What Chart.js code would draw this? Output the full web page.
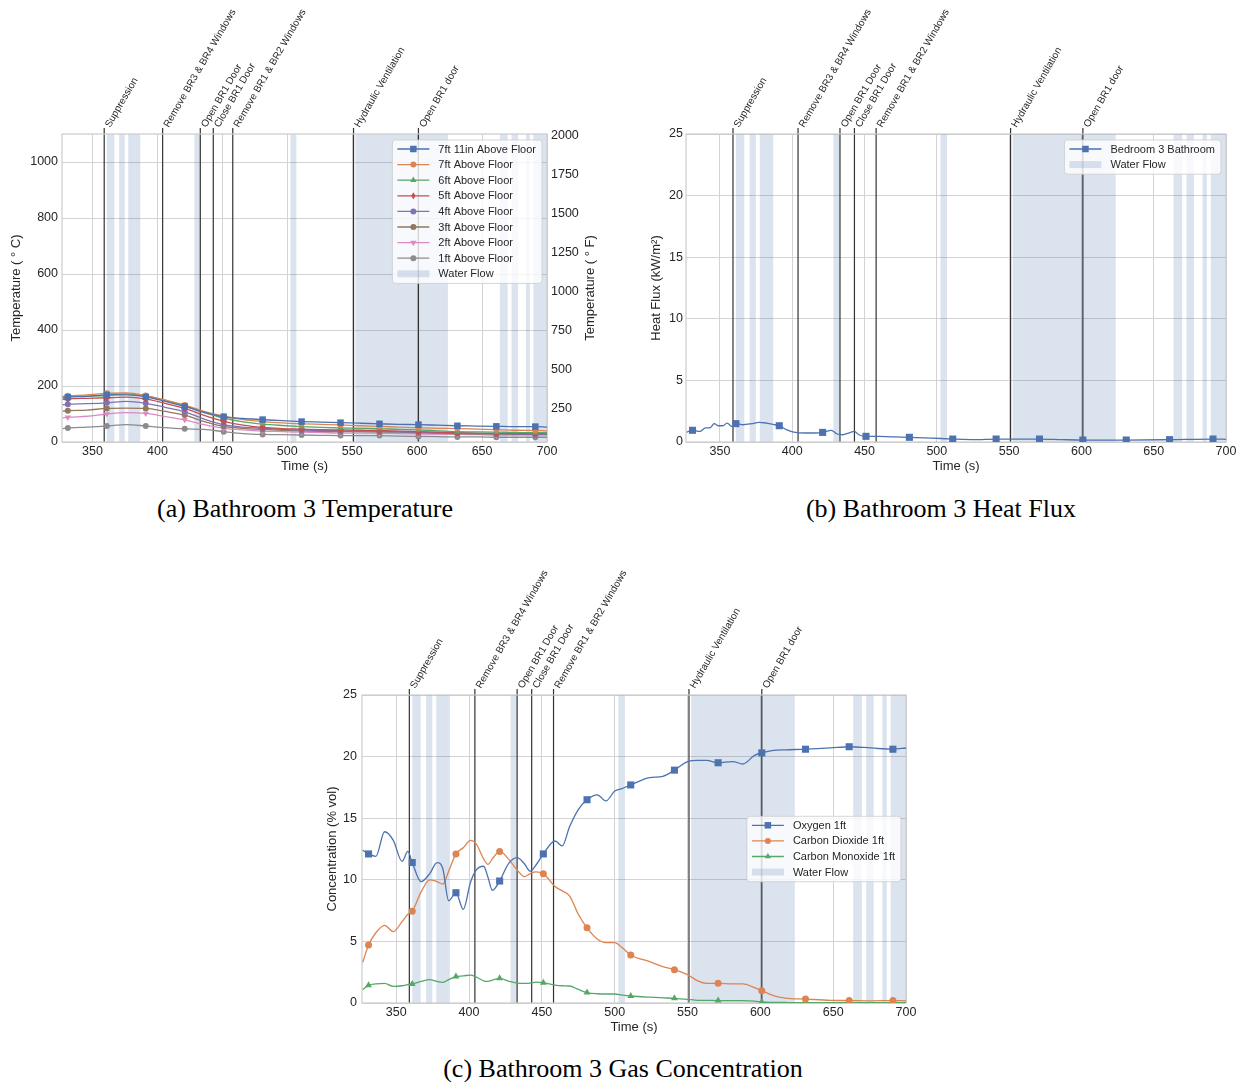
<!DOCTYPE html>
<html>
<head>
<meta charset="utf-8">
<script src="https://cdn.jsdelivr.net/npm/chart.js@4.4.1/dist/chart.umd.min.js"></script>
<style>
  html, body { margin: 0; padding: 0; background: #fff; }
  body { width: 1242px; height: 1082px; position: relative; overflow: hidden; }
  canvas { position: absolute; }
  .cap { position: absolute; width: 400px; text-align: center; font: 26px "Liberation Serif", "Times New Roman", serif; color: #000; line-height: 30px; }
</style>
</head>
<body>
<canvas id="tempChart" width="620" height="480" style="left:0;top:0"></canvas>
<canvas id="fluxChart" width="622" height="480" style="left:620px;top:0"></canvas>
<canvas id="gasChart" width="620" height="500" style="left:300px;top:540px"></canvas>
<div class="cap" style="left:105px;top:494px">(a) Bathroom 3 Temperature</div>
<div class="cap" style="left:741px;top:494px">(b) Bathroom 3 Heat Flux</div>
<div class="cap" style="left:423px;top:1054px">(c) Bathroom 3 Gas Concentration</div>
<script>
// shared time axis
const timeTicks = [350, 400, 450, 500, 550, 600, 650, 700];
const markTimes = [331, 361, 391, 421, 451, 481, 511, 541, 571, 601, 631, 661, 691];

// fireground events (s)
const eventTimes = [359, 404, 433, 443, 458, 551, 601];
const eventLabels = ['Suppression', 'Remove BR3 & BR4 Windows', 'Open BR1 Door', 'Close BR1 Door',
  'Remove BR1 & BR2 Windows', 'Hydraulic Ventilation', 'Open BR1 door'];

// hose line flowing (s)
const flowStart = [361, 370.5, 377.5, 428.5, 502.5, 552.5, 663.7, 672.7, 683.8, 689.5];
const flowEnd = [366.8, 374.8, 386.8, 432.7, 507, 623.7, 669.7, 677.8, 686.8, 700];

// bathroom 3 thermocouple array (deg C)
const tempTime = [327, 331, 346, 361, 376, 391, 406, 421, 436, 451, 466, 481, 496, 511, 526, 541, 556, 571, 586, 601, 616, 631, 646, 661, 676, 691, 700];
const temp7ft11in = [158, 160, 163, 168, 168, 161, 145, 127, 106, 90, 84, 80, 76, 73, 71, 69, 67, 65, 63, 62, 60, 58, 57, 56, 55, 55, 53];
const temp7ft = [163, 165, 168, 174, 175, 166, 150, 132, 109, 92, 80, 73, 68, 65, 63, 61, 58, 56, 53, 51, 49, 48, 46, 44, 42, 41, 40];
const temp6ft = [161, 163, 164, 166, 172, 164, 148, 129, 105, 85, 72, 64, 59, 55, 52, 50, 49, 48, 45, 43, 40, 37, 36, 35, 34, 33, 33];
const temp5ft = [152, 154, 156, 158, 160, 154, 138, 120, 95, 74, 60, 52, 48, 46, 44, 43, 42, 41, 39, 37, 35, 33, 32, 31, 30, 30, 30];
const temp4ft = [133, 135, 137, 140, 145, 138, 124, 108, 82, 62, 53, 49, 45, 43, 41, 40, 39, 38, 36, 35, 33, 31, 30, 29, 28, 27, 27];
const temp3ft = [110, 112, 114, 120, 121, 120, 109, 96, 73, 56, 49, 45, 42, 40, 38, 37, 37, 36, 35, 33, 31, 30, 29, 29, 28, 27, 27];
const temp2ft = [86, 88, 92, 100, 105, 102, 91, 79, 62, 49, 43, 39, 37, 35, 34, 32, 32, 31, 30, 29, 28, 27, 26, 25, 25, 25, 25];
const temp1ft = [48, 50, 53, 57, 62, 57, 51, 47, 45, 37, 30, 27, 26, 25, 24, 23, 23, 23, 21, 20, 19, 18, 18, 17, 17, 17, 17];
const celsiusTicks = [0, 200, 400, 600, 800, 1000];
const fahrenheitTicks = [250, 500, 750, 1000, 1250, 1500, 1750, 2000];

// heat flux gauge (kW/m2)
const fluxTime = [327, 331, 336, 340, 343, 346, 349, 352, 355, 358, 361, 366, 372, 377, 382, 388, 391, 396, 401, 409,
  415, 421, 427, 431, 435, 439, 443, 446, 451, 459, 470, 481, 496, 511, 526, 541, 560, 571, 587, 601, 631, 661, 691, 700];
const fluxBR3Bath = [0.81, 0.95, 0.86, 1.14, 1.14, 1.49, 1.32, 1.32, 1.54, 1.27, 1.49, 1.4, 1.49, 1.6, 1.54, 1.4, 1.32, 1.0, 0.81, 0.73,
  0.73, 0.78, 0.95, 0.65, 0.59, 0.73, 0.86, 0.59, 0.46, 0.46, 0.41, 0.38, 0.32, 0.24, 0.19, 0.24, 0.24, 0.24, 0.19, 0.16, 0.16, 0.19, 0.24, 0.22];
const fluxTicks = [0, 5, 10, 15, 20, 25];

// gas sampling at 1 ft (% vol)
const gasTime = [327, 331, 336, 342, 348, 354, 358, 361, 367, 373, 378, 382, 386, 391, 396, 401, 405, 410, 413, 416,
  421, 427, 433, 438, 442, 446, 451, 459, 464, 469, 475, 481, 488, 494, 500, 505, 511, 524, 533, 541,
  550, 557, 563, 571, 581, 588, 596, 601, 609, 617, 631, 648, 661, 676, 691, 700];
const oxygen1ft = [12.4, 12.1, 11.9, 13.9, 13.2, 11.5, 12.3, 11.4, 9.85, 10.5, 11.4, 10.9, 8.3, 8.95, 7.6, 9.8, 10.8, 11.1, 10.2, 9.15,
  9.9, 11.3, 11.8, 11.3, 10.7, 11.2, 12.1, 13.15, 12.75, 14.3, 15.7, 16.5, 16.9, 16.4, 17.2, 17.4, 17.7, 18.3, 18.4, 18.9,
  19.6, 19.7, 19.7, 19.5, 19.6, 19.4, 20.1, 20.3, 20.5, 20.55, 20.6, 20.7, 20.8, 20.7, 20.6, 20.7];
const carbonDioxide1ft = [3.3, 4.7, 5.7, 6.3, 5.8, 6.6, 7.2, 7.45, 9.0, 10.0, 9.85, 9.65, 10.7, 12.1, 12.6, 13.2, 12.9, 11.7, 11.25, 11.7,
  12.3, 11.7, 10.8, 10.25, 10.5, 10.65, 10.5, 9.45, 9.1, 8.7, 7.2, 6.1, 5.2, 4.9, 4.9, 4.5, 3.9, 3.35, 2.95, 2.7,
  2.3, 1.8, 1.6, 1.6, 1.55, 1.55, 1.25, 1.0, 0.6, 0.4, 0.32, 0.22, 0.2, 0.18, 0.2, 0.18];
const carbonMonoxide1ft = [1.1, 1.45, 1.55, 1.6, 1.35, 1.4, 1.5, 1.55, 1.75, 1.9, 1.75, 1.68, 1.9, 2.15, 2.2, 2.27, 2.1, 1.8, 1.75, 1.85,
  2.0, 1.78, 1.62, 1.6, 1.62, 1.7, 1.65, 1.45, 1.4, 1.38, 1.1, 0.85, 0.75, 0.73, 0.73, 0.65, 0.57, 0.47, 0.42, 0.38,
  0.3, 0.22, 0.21, 0.2, 0.2, 0.2, 0.15, 0.08, 0.05, 0.04, 0.03, 0.03, 0.03, 0.03, 0.03, 0.03];
const gasTicks = [0, 5, 10, 15, 20, 25];

const ink = '#262626';
const gridColor = '#d3d3d3';
const flowColor = 'rgba(76, 114, 176, 0.2)';
const sans = '"Liberation Sans", Arial, sans-serif';

Chart.defaults.font.family = sans;
Chart.defaults.color = ink;
Chart.defaults.animation = false;

function drawMark(ctx, style, x, y, r, rot) {
  ctx.beginPath();
  if (style === 'rect') {
    const s = r * Math.SQRT1_2;
    ctx.rect(x - s, y - s, 2 * s, 2 * s);
  } else if (style === 'rectRot') {
    ctx.moveTo(x, y - r); ctx.lineTo(x + r * 0.6, y); ctx.lineTo(x, y + r); ctx.lineTo(x - r * 0.6, y);
    ctx.closePath();
  } else if (style === 'triangle') {
    let a = (rot || 0) * Math.PI / 180;
    ctx.moveTo(x + Math.sin(a) * r, y - Math.cos(a) * r);
    a += 2 * Math.PI / 3;
    ctx.lineTo(x + Math.sin(a) * r, y - Math.cos(a) * r);
    a += 2 * Math.PI / 3;
    ctx.lineTo(x + Math.sin(a) * r, y - Math.cos(a) * r);
    ctx.closePath();
  } else {
    ctx.arc(x, y, r, 0, Math.PI * 2);
  }
  ctx.fill();
}

function series(label, times, values, color, mark, size, rot) {
  return {
    label: label,
    data: times.map((t, i) => ({ x: t, y: values[i] })),
    borderColor: color,
    backgroundColor: color,
    borderWidth: 1.3,
    pointStyle: mark,
    pointRotation: rot || 0,
    pointRadius: c => (c.raw && markTimes.includes(c.raw.x)) ? size : 0,
    pointBorderWidth: 0,
    cubicInterpolationMode: 'monotone',
    fill: false
  };
}

function timeAxis(h, titlePad) {
  return {
    type: 'linear', min: 326.5, max: 700,
    afterBuildTicks: s => { s.ticks = timeTicks.map(v => ({ value: v })); },
    afterFit: s => { s.height = h; },
    grid: { color: gridColor, lineWidth: 1, drawTicks: false },
    border: { display: false },
    ticks: { color: ink, font: { size: 12.5 }, padding: 2, autoSkip: false, maxRotation: 0, callback: v => String(v) },
    title: { display: true, text: 'Time (s)', color: ink, font: { size: 13 }, padding: { top: 0, bottom: titlePad } }
  };
}

function valueAxis(max, ticks, w, text, titlePad, tickPad) {
  return {
    position: 'left', min: 0, max: max,
    afterBuildTicks: s => { s.ticks = ticks.map(v => ({ value: v })); },
    afterFit: s => { s.width = w; },
    grid: { color: gridColor, lineWidth: 1, drawTicks: false },
    border: { display: false },
    ticks: { color: ink, font: { size: 12.5 }, padding: tickPad, callback: v => String(v) },
    title: { display: true, text: text, color: ink, font: { size: 13 }, padding: { top: titlePad, bottom: 0 } }
  };
}

// water flow spans, event lines with slanted labels, and the axes frame
const overlay = {
  id: 'overlay',
  beforeDatasetsDraw(chart) {
    const { ctx, chartArea: a } = chart;
    const x = chart.scales.x;
    ctx.save();
    ctx.beginPath();
    ctx.rect(a.left, a.top, a.width, a.height);
    ctx.clip();
    ctx.fillStyle = flowColor;
    flowStart.forEach((s, i) => {
      const x0 = x.getPixelForValue(s);
      const x1 = x.getPixelForValue(flowEnd[i]);
      ctx.fillRect(x0, a.top, x1 - x0, a.height);
    });
    ctx.restore();

    ctx.save();
    ctx.strokeStyle = '#333333';
    ctx.lineWidth = 1.2;
    ctx.fillStyle = ink;
    ctx.font = '10px ' + sans;
    ctx.textBaseline = 'alphabetic';
    eventTimes.forEach((t, i) => {
      const px = x.getPixelForValue(t);
      ctx.beginPath();
      ctx.moveTo(px, a.bottom);
      ctx.lineTo(px, a.top - 6);
      ctx.stroke();
      ctx.save();
      ctx.translate(px + 6, a.top - 6);
      ctx.rotate(-Math.PI / 3);
      ctx.fillText(eventLabels[i], 0, 0);
      ctx.restore();
    });
    ctx.strokeStyle = '#cccccc';
    ctx.lineWidth = 1.2;
    ctx.strokeRect(a.left, a.top, a.width, a.height);
    ctx.restore();
  }
};

// framed legend inside the axes, with a water flow patch at the end
const boxLegend = {
  id: 'boxLegend',
  afterDatasetsDraw(chart, args, opts) {
    const { ctx, chartArea: a } = chart;
    const rows = chart.data.datasets.map(d => ({ label: d.label, ds: d }));
    rows.push({ label: 'Water Flow', patch: true });
    const rowH = 15.6;
    ctx.save();
    ctx.font = '11px ' + sans;
    const textW = Math.max(...rows.map(r => ctx.measureText(r.label).width));
    const w = 5 + 32 + 9 + textW + 6;
    const h = rows.length * rowH + 3;
    const x0 = a.right - 5 - w;
    const y0 = opts.center ? (a.top + a.bottom) / 2 - h / 2 : a.top + 6;
    ctx.beginPath();
    ctx.roundRect(x0, y0, w, h, 3);
    ctx.fillStyle = 'rgba(255,255,255,0.8)';
    ctx.fill();
    ctx.strokeStyle = 'rgba(204,204,204,0.8)';
    ctx.lineWidth = 1;
    ctx.stroke();
    rows.forEach((r, i) => {
      const cy = y0 + 9 + i * rowH;
      if (r.patch) {
        ctx.fillStyle = flowColor;
        ctx.fillRect(x0 + 5, cy - 3.5, 32, 7);
      } else {
        ctx.strokeStyle = r.ds.borderColor;
        ctx.lineWidth = 1.3;
        ctx.beginPath();
        ctx.moveTo(x0 + 5, cy);
        ctx.lineTo(x0 + 37, cy);
        ctx.stroke();
        ctx.fillStyle = r.ds.backgroundColor;
        drawMark(ctx, r.ds.pointStyle, x0 + 21, cy, opts.markSize[i], r.ds.pointRotation);
      }
      ctx.fillStyle = ink;
      ctx.textBaseline = 'middle';
      ctx.fillText(r.label, x0 + 46, cy + 0.5);
    });
    ctx.restore();
  }
};

// right-hand Fahrenheit axis title, reading bottom to top
const fahrenheitTitle = {
  id: 'fahrenheitTitle',
  afterDraw(chart) {
    const { ctx, chartArea: a } = chart;
    ctx.save();
    ctx.translate(590, (a.top + a.bottom) / 2);
    ctx.rotate(-Math.PI / 2);
    ctx.font = '13px ' + sans;
    ctx.fillStyle = ink;
    ctx.textAlign = 'center';
    ctx.textBaseline = 'middle';
    ctx.fillText('Temperature ( \u00b0 F)', 0, 0);
    ctx.restore();
  }
};

const tempSizes = [4.6, 3, 3.6, 3.6, 3, 3, 3.6, 3];
new Chart(document.getElementById('tempChart'), {
  type: 'line',
  data: {
    datasets: [
      series('7ft 11in Above Floor', tempTime, temp7ft11in, '#4C72B0', 'rect', 4.6),
      series('7ft Above Floor', tempTime, temp7ft, '#DD8452', 'circle', 3),
      series('6ft Above Floor', tempTime, temp6ft, '#55A868', 'triangle', 3.6),
      series('5ft Above Floor', tempTime, temp5ft, '#C44E52', 'rectRot', 3.6),
      series('4ft Above Floor', tempTime, temp4ft, '#8172B3', 'circle', 3),
      series('3ft Above Floor', tempTime, temp3ft, '#937860', 'circle', 3),
      series('2ft Above Floor', tempTime, temp2ft, '#DA8BC3', 'triangle', 3.6, 180),
      series('1ft Above Floor', tempTime, temp1ft, '#8C8C8C', 'circle', 3)
    ]
  },
  options: {
    responsive: false,
    layout: { padding: { top: 134, left: 0, right: 0, bottom: 0 } },
    plugins: { legend: { display: false }, tooltip: { enabled: false }, boxLegend: { markSize: tempSizes } },
    scales: {
      x: timeAxis(38, 6),
      y: valueAxis(1100, celsiusTicks, 62, 'Temperature ( \u00b0 C)', 9, 4),
      yF: {
        position: 'right', min: 32, max: 2012,
        afterBuildTicks: s => { s.ticks = fahrenheitTicks.map(v => ({ value: v })); },
        afterFit: s => { s.width = 73; },
        grid: { display: false, drawTicks: false },
        border: { display: false },
        ticks: { color: ink, font: { size: 12.5 }, padding: 4, callback: v => String(v) }
      }
    }
  },
  plugins: [overlay, boxLegend, fahrenheitTitle]
});

new Chart(document.getElementById('fluxChart'), {
  type: 'line',
  data: {
    datasets: [series('Bedroom 3 Bathroom', fluxTime, fluxBR3Bath, '#4C72B0', 'rect', 5)]
  },
  options: {
    responsive: false,
    layout: { padding: { top: 134, left: 0, right: 16, bottom: 0 } },
    plugins: { legend: { display: false }, tooltip: { enabled: false }, boxLegend: { markSize: [4.6] } },
    scales: {
      x: timeAxis(38, 6),
      y: valueAxis(25, fluxTicks, 66, 'Heat Flux (kW/m\u00b2)', 29, 3)
    }
  },
  plugins: [overlay, boxLegend]
});

new Chart(document.getElementById('gasChart'), {
  type: 'line',
  data: {
    datasets: [
      series('Oxygen 1ft', gasTime, oxygen1ft, '#4C72B0', 'rect', 5),
      series('Carbon Dioxide 1ft', gasTime, carbonDioxide1ft, '#DD8452', 'circle', 3.5),
      series('Carbon Monoxide 1ft', gasTime, carbonMonoxide1ft, '#55A868', 'triangle', 4)
    ]
  },
  options: {
    responsive: false,
    layout: { padding: { top: 155, left: 0, right: 14, bottom: 0 } },
    plugins: { legend: { display: false }, tooltip: { enabled: false }, boxLegend: { markSize: [4.6, 3, 3.6], center: true } },
    scales: {
      x: timeAxis(37, 5),
      y: valueAxis(25, gasTicks, 62, 'Concentration (% vol)', 25, 5)
    }
  },
  plugins: [overlay, boxLegend]
});
</script>
</body>
</html>
